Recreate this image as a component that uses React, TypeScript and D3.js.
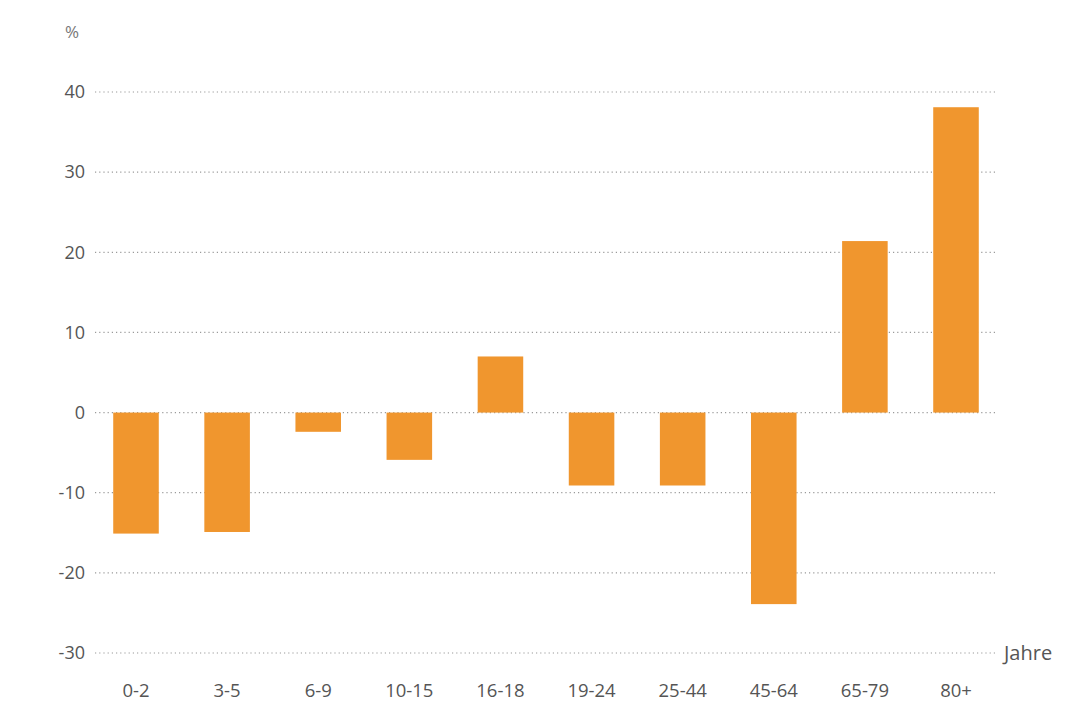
import React from "react";
import * as d3 from "d3";

const categories = ["0-2", "3-5", "6-9", "10-15", "16-18", "19-24", "25-44", "45-64", "65-79", "80+"];
const values = [-15.1, -14.9, -2.4, -5.9, 7.0, -9.1, -9.1, -23.9, 21.4, 38.1];
const yTicks = [-30, -20, -10, 0, 10, 20, 30, 40];

export default function App() {
  const W = 1075, H = 706;
  const x = d3.scaleBand<string>().domain(categories).range([95, 997]).paddingInner(0.5).paddingOuter(0.2);
  const y = d3.scaleLinear().domain([-30, 40]).range([653, 92]);
  const font = "'Open Sans', 'Noto Sans', sans-serif";
  return (
    <svg width={W} height={H} style={{ position: "absolute", left: 0, top: 0, background: "#fff" }}>
      <text x={65} y={38} fontFamily={font} fontSize={17} fill="#777">%</text>
      {yTicks.map(t => (
        <g key={t}>
          <line x1={95} x2={997} y1={y(t)} y2={y(t)} stroke="#9a9a9a" strokeWidth={1.2} strokeDasharray="1.2,3" />
          <text x={85} y={y(t)} dy="0.35em" textAnchor="end" fontFamily={font} fontSize={18} fill="#555">{t}</text>
        </g>
      ))}
      {categories.map((c, i) => (
        <rect key={c} x={x(c)} width={x.bandwidth()} y={y(Math.max(0, values[i]))}
          height={Math.abs(y(values[i]) - y(0))} fill="#f0962e" />
      ))}
      {categories.map(c => (
        <text key={c} x={(x(c) as number) + x.bandwidth() / 2} y={697} textAnchor="middle"
          fontFamily={font} fontSize={18.5} fill="#555">{c}</text>
      ))}
      <text x={1004} y={y(-30)} dy="0.35em" fontFamily={font} fontSize={20} fill="#555">Jahre</text>
    </svg>
  );
}
